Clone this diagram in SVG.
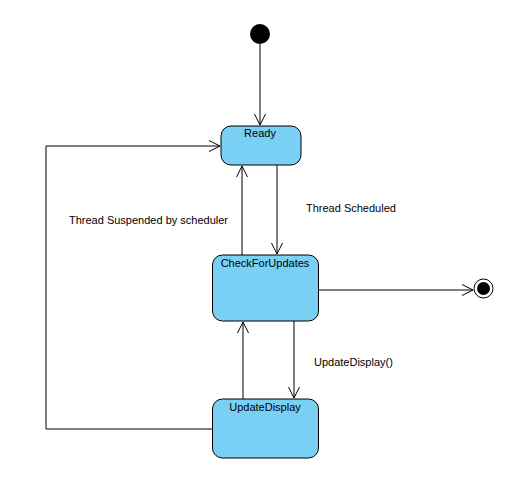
<svg xmlns="http://www.w3.org/2000/svg" width="531" height="500" viewBox="0 0 531 500">
<defs>
<style>
.state{fill:#7ACFF5;stroke:#000;stroke-width:1}
.name{font-family:"Liberation Sans",Arial,sans-serif;font-size:11px;fill:#000;text-anchor:middle}
.lbl{font-family:"Liberation Sans",Arial,sans-serif;font-size:11px;fill:#000}
.edge{fill:none;stroke:#000;stroke-width:1;marker-end:url(#arr)}
</style>
<marker id="arr" markerUnits="userSpaceOnUse" markerWidth="14" markerHeight="14" refX="12" refY="6" orient="auto">
<path d="M1,0.5 L12,6 L1,11.5" fill="none" stroke="#000" stroke-width="1"/>
</marker>
</defs>
<rect width="531" height="500" fill="#fff"/>
<g id="connectors">
<path class="edge" d="M260,44 V125"/>
<path class="edge" d="M277,165 V254"/>
<path class="edge" d="M242,255 V166"/>
<path class="edge" d="M294,321 V398"/>
<path class="edge" d="M243,399 V322"/>
<path class="edge" d="M212,429 H46 V146 H220"/>
<path class="edge" d="M319,290 H473"/>
<text class="lbl" x="306" y="212">Thread Scheduled</text>
<text class="lbl" x="69" y="224">Thread Suspended by scheduler</text>
<text class="lbl" x="314" y="366">UpdateDisplay()</text>
</g>
<g id="initial">
<circle cx="260" cy="34" r="10" fill="#000"/>
</g>
<g id="ready">
<rect class="state" x="221" y="126" width="80" height="39" rx="10"/>
<text class="name" x="260" y="137">Ready</text>
</g>
<g id="checkForUpdates">
<rect class="state" x="212.5" y="255" width="106" height="66" rx="10"/>
<text class="name" x="265" y="267">CheckForUpdates</text>
</g>
<g id="updateDisplay">
<rect class="state" x="212.5" y="399" width="106" height="59" rx="10"/>
<text class="name" x="265" y="411">UpdateDisplay</text>
</g>
<g id="final">
<circle cx="483.5" cy="288.5" r="9.5" fill="#fff" stroke="#000" stroke-width="1"/>
<circle cx="483.5" cy="288.5" r="6.5" fill="#000"/>
</g>
</svg>
